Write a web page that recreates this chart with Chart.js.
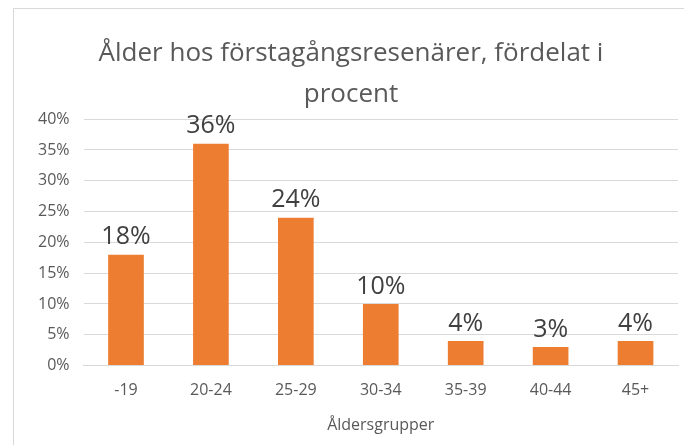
<!DOCTYPE html>
<html>
<head>
<meta charset="utf-8">
<script src="https://cdn.jsdelivr.net/npm/chart.js@4"></script>
<style>
  html, body { margin: 0; padding: 0; background: #fff; }
  #wrap {
    position: absolute; left: 13px; top: 8px; width: 671px; height: 437px;
    border-top: 1px solid #d9d9d9; border-left: 1px solid #d9d9d9;
    box-sizing: border-box;
  }
  #chart1 { position: absolute; left: 0; top: 0; }
</style>
</head>
<body>
<div id="wrap"><canvas id="chart1" width="670" height="436"></canvas></div>
<script>
var categories = ['-19', '20-24', '25-29', '30-34', '35-39', '40-44', '45+'];
var values = [18, 36, 24, 10, 4, 3, 4];
var titleLines = ['Ålder hos förstagångsresenärer, fördelat i', 'procent'];
var xTitle = 'Åldersgrupper';

var font = "'Open Sans', 'Noto Sans', sans-serif";

// draws the percentage above each bar
var barLabels = {
    id: 'barLabels',
    afterDatasetsDraw: function (chart) {
        var c = chart.ctx;
        var meta = chart.getDatasetMeta(0);
        c.save();
        c.font = '25px ' + font;
        c.fillStyle = '#404040';
        c.textAlign = 'center';
        c.textBaseline = 'bottom';
        meta.data.forEach(function (bar, i) {
            c.fillText(values[i] + '%', bar.x, bar.y - 5);
        });
        c.restore();
    }
};

var ctx1 = document.getElementById('chart1').getContext('2d');
var chart1 = new Chart(ctx1, {
    type: 'bar',
    data: {
        labels: categories,
        datasets: [{
            data: values,
            backgroundColor: '#ED7D31',
            borderWidth: 0,
            categoryPercentage: 1,
            barPercentage: 0.42
        }]
    },
    options: {
        responsive: false,
        animation: false,
        layout: { padding: { left: 10, right: 6, top: 16, bottom: 10 } },
        plugins: {
            legend: { display: false },
            tooltip: { enabled: false },
            title: {
                display: true,
                text: titleLines,
                color: '#595959',
                font: { family: font, size: 26, weight: 'normal', lineHeight: 1.58 },
                padding: { top: 8, bottom: 4 }
            }
        },
        scales: {
            x: {
                grid: { display: false },
                border: { color: '#d9d9d9' },
                ticks: { color: '#595959', font: { family: font, size: 16 }, padding: 7 },
                title: {
                    display: true,
                    text: xTitle,
                    color: '#595959',
                    font: { family: font, size: 16 },
                    padding: { top: 9, bottom: 0 }
                }
            },
            y: {
                min: 0,
                max: 40,
                ticks: {
                    stepSize: 5,
                    color: '#595959',
                    font: { family: font, size: 16 },
                    padding: 14,
                    callback: function (v) { return v + '%'; }
                },
                grid: { color: '#d9d9d9', drawTicks: false },
                border: { display: false }
            }
        }
    },
    plugins: [barLabels]
});
</script>
</body>
</html>
